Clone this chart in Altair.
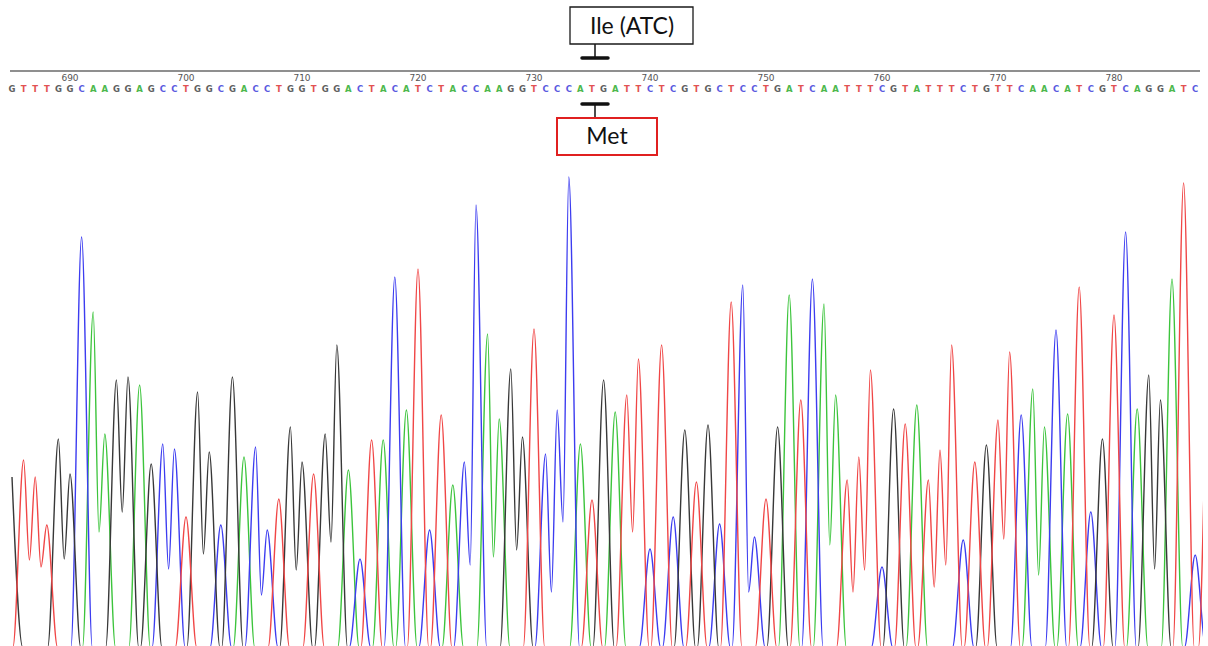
import altair as alt
import pandas as pd

# ---------------- data ----------------
sequence = "GTTTGGCAAGGAGCCTGGCGACCTGGTGGACTACATCTACCAAGGTCCCATGATTCTCGTGCTCCTGATCAATTTCGTATTTCTGTTCAACATCGTCAGGATC"
first_position = 685  # position number of the first base shown

# peak height of every called base (same order as the sequence)
peak_heights = [
    170, 187, 170, 122, 208, 173, 410, 335, 213, 267,
    270, 262, 183, 203, 198, 130, 255, 195, 122, 270,
    190, 200, 117, 148, 220, 185, 173, 213, 302, 177,
    88, 207, 207, 370, 237, 378, 117, 232, 162, 185,
    442, 313, 228, 278, 210, 318, 193, 237, 470, 203,
    147, 267, 235, 252, 288, 98, 302, 130, 217, 165,
    222, 123, 345, 362, 110, 148, 220, 352, 247, 368,
    343, 252, 167, 190, 277, 80, 238, 223, 242, 167,
    197, 302, 107, 185, 202, 227, 295, 232, 258, 220,
    317, 233, 360, 135, 208, 332, 415, 238, 272, 247,
    368, 464, 92,
]

# valley between two neighbouring peaks of the same base (index of left peak, height)
trough_after = [1, 2, 4, 7, 9, 13, 16, 21, 24, 27, 39, 41, 43, 46, 47, 53, 63, 70, 72, 73, 79, 80, 85, 88, 98]
trough_heights = [87, 80, 88, 115, 135, 78, 93, 52, 77, 105, 82, 90, 97, 55, 125, 115, 55, 102, 55, 77, 60, 82, 108, 72, 78]

# partial peak cut by the right edge
edge_base = "T"
edge_index = 103.2
edge_height = 300

tick_positions = [690, 700, 710, 720, 730, 740, 750, 760, 770, 780]

reference_label = "Ile (ATC)"
mutant_label = "Met"

# ---------------- styling ----------------
trace_colors = {"A": "#3cc43c", "C": "#3c3cf0", "G": "#383838", "T": "#f04646"}
letter_colors = {"A": "#4cb84c", "C": "#5a5ae0", "G": "#606060", "T": "#e25252"}

SPACING = 11.6
OFFSET = 12
PLOT_W = 1203
PLOT_H = 646
x_dom = [-OFFSET / SPACING, (PLOT_W - OFFSET) / SPACING]
W = 0.92  # half width of a peak foot, in bases

# ---------------- build trace points (peaks + valleys) ----------------
troughs = dict(zip(trough_after, trough_heights))
rows = []
for b in "ACGT":
    peaks = [(i, peak_heights[i]) for i, c in enumerate(sequence) if c == b]
    if b == edge_base:
        peaks.append((edge_index, edge_height))
    pts = []
    start = -0.1
    fi = peaks[0][0]
    if fi - W > start:
        pts += [(start, 0), (fi - W, 0)]
    for k, (i, h) in enumerate(peaks):
        if k > 0:
            p = peaks[k - 1][0]
            if i - p == 1:
                pts.append((p + 0.5, troughs.get(p, 0.3 * min(h, peaks[k - 1][1]))))
            else:
                pts += [(p + W, 0), (i - W, 0)]
        pts.append((i, h))
    li = peaks[-1][0]
    pts.append((li + W, 0))
    if li + W < x_dom[1] + 1:
        pts.append((x_dom[1] + 1, 0))
    for o, (x, v) in enumerate(pts):
        rows.append({"base": b, "i": x, "v": v, "o": o, "col": trace_colors[b]})
trace_df = pd.DataFrame(rows)

seq_df = pd.DataFrame({
    "i": list(range(len(sequence))),
    "base": list(sequence),
})
seq_df["col"] = seq_df["base"].map(letter_colors)

tick_df = pd.DataFrame({"pos": tick_positions})
tick_df["i"] = tick_df["pos"] - first_position
tick_df["lab"] = tick_df["pos"].astype(str)

xs = alt.X("i:Q", scale=alt.Scale(domain=x_dom, nice=False, zero=False), axis=None)
# baseline sits just below the bottom edge, as in the reference
ys = alt.Y("v:Q", scale=alt.Scale(domain=[1, PLOT_H + 1], nice=False, zero=False), axis=None)

traces = alt.Chart(trace_df).mark_line(
    interpolate="monotone", strokeWidth=1.4, clip=True
).encode(x=xs, y=ys, color=alt.Color("col:N", scale=None), detail="base:N", order="o:Q")

one = pd.DataFrame({"k": [0]})

ruler = alt.Chart(one).mark_rule(color="#8f8f8f", strokeWidth=2).encode(
    x=alt.value(10), x2=alt.value(1200), y=alt.value(71))

ticks = alt.Chart(tick_df).mark_text(fontSize=9, font="DejaVu Sans", color="#555555", baseline="middle").encode(
    x=alt.X("i:Q"), y=alt.value(78), text="lab:N")

letters = alt.Chart(seq_df).mark_text(fontSize=8.5, font="DejaVu Sans", fontWeight="bold", baseline="middle").encode(
    x=alt.X("i:Q"), y=alt.value(89), text="base:N", color=alt.Color("col:N", scale=None))

ile_box = alt.Chart(one).mark_rect(fill="white", stroke="#1a1a1a", strokeWidth=1.3).encode(
    x=alt.value(570), x2=alt.value(693), y=alt.value(7), y2=alt.value(44))
ile_text = alt.Chart(one).mark_text(fontSize=23, font="Lato", color="#111111", baseline="middle").encode(
    x=alt.value(632), y=alt.value(27), text=alt.value(reference_label))
ile_stem = alt.Chart(one).mark_rule(color="#111111", strokeWidth=1.5).encode(
    x=alt.value(595), y=alt.value(44), y2=alt.value(58))
ile_bar = alt.Chart(one).mark_rule(color="#111111", strokeWidth=3.5, strokeCap="round").encode(
    x=alt.value(582), x2=alt.value(608), y=alt.value(58))

met_box = alt.Chart(one).mark_rect(fill="white", stroke="#e02020", strokeWidth=2).encode(
    x=alt.value(557), x2=alt.value(657), y=alt.value(118), y2=alt.value(155))
met_text = alt.Chart(one).mark_text(fontSize=23, font="Lato", color="#111111", baseline="middle").encode(
    x=alt.value(607), y=alt.value(137), text=alt.value(mutant_label))
met_stem = alt.Chart(one).mark_rule(color="#111111", strokeWidth=1.5).encode(
    x=alt.value(595), y=alt.value(104), y2=alt.value(118))
met_bar = alt.Chart(one).mark_rule(color="#111111", strokeWidth=3.5, strokeCap="round").encode(
    x=alt.value(582), x2=alt.value(608), y=alt.value(104))

chart = alt.layer(
    traces, ruler, ticks, letters,
    ile_stem, ile_bar, ile_box, ile_text,
    met_stem, met_bar, met_box, met_text,
).properties(
    width=PLOT_W, height=PLOT_H,
    padding={"left": 0, "top": 0, "right": 5, "bottom": 0},
    autosize=alt.AutoSizeParams(type="none"),
    background="white",
).configure_view(stroke=None)

chart.save("out.html", embed_options={"renderer": "svg", "actions": False})
